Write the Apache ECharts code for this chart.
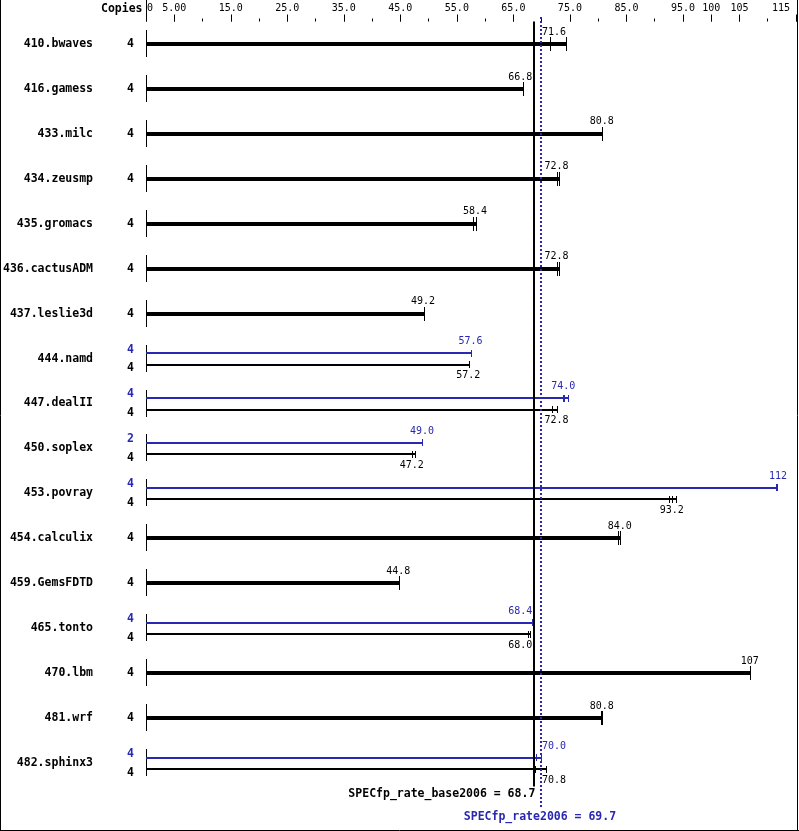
<!DOCTYPE html>
<html>
<head>
    <meta charset="utf-8"/>
    <title>SPECfp_rate2006</title>
    <script src="https://cdn.jsdelivr.net/npm/echarts@6/dist/echarts.min.js"></script>
    <style>
        html, body { margin: 0; padding: 0; background: #fff; }
        #main { width: 799px; height: 831px; }
    </style>
</head>
<body>
<div id="main"></div>
<script>
    // benchmark rows, top to bottom
    let benchmarks = ['410.bwaves', '416.gamess', '433.milc', '434.zeusmp', '435.gromacs', '436.cactusADM',
        '437.leslie3d', '444.namd', '447.dealII', '450.soplex', '453.povray', '454.calculix',
        '459.GemsFDTD', '465.tonto', '470.lbm', '481.wrf', '482.sphinx3'];

    // base results (black)
    let baseCopies = [4, 4, 4, 4, 4, 4, 4, 4, 4, 4, 4, 4, 4, 4, 4, 4, 4];
    let baseScore = [71.6, 66.8, 80.8, 72.8, 58.4, 72.8, 49.2, 57.2, 72.8, 47.2, 93.2, 84.0, 44.8, 68.0, 107, 80.8, 70.8];
    let baseRuns = [[71.6, 74.4], [66.8], [80.8], [72.8, 73.1], [57.9, 58.4], [72.8, 73.1], [49.2], [57.2],
        [72.0, 72.8], [47.2, 47.6], [92.7, 93.2, 93.9], [83.6, 84.0], [44.8], [67.6, 68.0], [107], [80.5, 80.8], [68.9, 70.8]];

    // peak results (blue), null where peak is the same as base
    let peakCopies = [null, null, null, null, null, null, null, 4, 4, 2, 4, null, null, 4, null, null, 4];
    let peakScore = [null, null, null, null, null, null, null, 57.6, 74.0, 49.0, 112, null, null, 68.4, null, null, 70.0];
    let peakRuns = [null, null, null, null, null, null, null, [57.6], [73.8, 74.0, 74.7], [49.0], [111.5, 111.8],
        null, null, [68.4], null, null, [69.1, 70.0]];

    let baseMean = 68.7;
    let peakMean = 69.7;

    // top axis
    let xMinorTicks = 5;
    let xMajorValues = [5, 15, 25, 35, 45, 55, 65, 75, 85, 95, 100, 105, 115];
    let xLabelValues = [0, 5, 15, 25, 35, 45, 55, 65, 75, 85, 95, 100, 105, 115];
    let xLabelTexts = ['0', '5.00', '15.0', '25.0', '35.0', '45.0', '55.0', '65.0', '75.0', '85.0', '95.0', '100', '105', '115'];

    const BLUE = '#2828b0';
    const MONO = '"DejaVu Sans Mono", monospace';
    const BOLD = 'bold 11.5px ' + MONO;
    const SMALL = '10px ' + MONO;

    function px(v) { return Math.round(v - 0.5) + 0.5; }
    function fmt(v) { return v >= 100 ? v.toFixed(0) : v.toFixed(1); }

    function textEl(str, x, y, font, color, align) {
        return {
            type: 'text',
            style: {
                text: str, x: x, y: y, font: font, fill: color,
                align: align, textAlign: align, verticalAlign: 'middle', textVerticalAlign: 'middle'
            }
        };
    }

    // one bar with its run ticks and its value label
    function drawBar(api, kids, runs, score, yb, thick, capH, labelDy, color) {
        let x0 = api.coord([0, 0])[0];
        let xe = api.coord([Math.max.apply(null, runs), 0])[0];
        kids.push({
            type: 'rect',
            shape: {x: x0, y: Math.round(yb - thick / 2), width: xe - x0, height: thick},
            style: {fill: color}
        });
        runs.forEach(function (r) {
            let xr = px(api.coord([r, 0])[0]);
            kids.push({
                type: 'line',
                shape: {x1: xr, y1: Math.round(yb - capH), x2: xr, y2: Math.round(yb + capH)},
                style: {stroke: color, lineWidth: 1}
            });
        });
        // keep the value label clear of the two mean lines
        let label = fmt(score);
        let w = label.length * 6.02;
        let cx = api.coord([score, 0])[0] - 1;
        let lo = api.coord([baseMean, 0])[0] - 2;
        let hi = api.coord([peakMean, 0])[0] + 2;
        if (cx - w / 2 < hi && cx + w / 2 > lo) {
            let toLeft = (cx + w / 2) - lo;
            let toRight = hi - (cx - w / 2);
            cx = toLeft < toRight ? lo - w / 2 : hi + w / 2;
        }
        kids.push(textEl(label, cx, yb + labelDy, SMALL, color, 'center'));
    }

    function renderRow(params, api) {
        let i = params.dataIndex;
        let cs = params.coordSys;
        let c = api.coord([0, i]);
        let yc = c[1];
        let copiesX = cs.x - 15.5;
        let kids = [];
        kids.push({
            type: 'line',
            shape: {x1: px(c[0]), y1: Math.round(yc - 14), x2: px(c[0]), y2: Math.round(yc + 13)},
            style: {stroke: '#000', lineWidth: 1}
        });
        if (peakScore[i] == null) {
            drawBar(api, kids, baseRuns[i], baseScore[i], yc, 4, 7, -12, '#000');
            kids.push(textEl(String(baseCopies[i]), copiesX, yc, BOLD, '#000', 'center'));
        } else {
            drawBar(api, kids, peakRuns[i], peakScore[i], yc - 5.5, 2, 3.5, -11.5, BLUE);
            drawBar(api, kids, baseRuns[i], baseScore[i], yc + 6, 2, 3.5, 11, '#000');
            kids.push(textEl(String(peakCopies[i]), copiesX, yc - 9, BOLD, BLUE, 'center'));
            kids.push(textEl(String(baseCopies[i]), copiesX, yc + 9.5, BOLD, '#000', 'center'));
        }
        return {type: 'group', children: kids};
    }

    function renderMeans(params, api) {
        let cs = params.coordSys;
        let top = cs.y, bottom = cs.y + cs.height;
        let xb = api.coord([baseMean, 0])[0];
        let xp = api.coord([peakMean, 0])[0];
        return {
            type: 'group',
            children: [
                {
                    type: 'line',
                    shape: {x1: Math.round(xb), y1: top, x2: Math.round(xb), y2: bottom + 1},
                    style: {stroke: '#000', lineWidth: 2}
                },
                {
                    type: 'line',
                    shape: {x1: Math.round(xp) + 1, y1: top - 4.5, x2: Math.round(xp) + 1, y2: bottom + 23},
                    style: {stroke: BLUE, lineWidth: 2, lineDash: [2, 2]}
                },
                textEl('SPECfp_rate_base2006 = ' + baseMean.toFixed(1), xb + 1, bottom + 9, BOLD, '#000', 'right'),
                textEl('SPECfp_rate2006 = ' + peakMean.toFixed(1), xp, bottom + 32, BOLD, BLUE, 'center')
            ]
        };
    }

    let myChart = echarts.init(document.getElementById('main'));
    let option = {
        animation: false,
        backgroundColor: '#fff',
        grid: {left: 146, right: 3, top: 21.5, bottom: 45.5, containLabel: false, outerBoundsMode: 'none'},
        xAxis: [
            {
                type: 'value', position: 'top', min: 0, max: 115, interval: xMinorTicks,
                axisLine: {show: false}, splitLine: {show: false},
                axisTick: {show: true, length: 3, lineStyle: {color: '#000', width: 1}},
                axisLabel: {show: false}
            },
            {
                type: 'value', position: 'top', min: 0, max: 115, interval: xMinorTicks,
                axisLine: {show: false}, splitLine: {show: false},
                axisTick: {show: true, length: 7, customValues: xMajorValues, lineStyle: {color: '#000', width: 1}},
                axisLabel: {
                    show: true, customValues: xLabelValues, margin: 8,
                    showMinLabel: true, showMaxLabel: true,
                    color: '#000', fontSize: 10, fontFamily: MONO,
                    formatter: function (v) {
                        let k = xLabelValues.indexOf(v);
                        let t = k >= 0 ? xLabelTexts[k] : '';
                        if (v === 0) return '{l|' + t + '}';
                        if (v === 115) return '{r|' + t + '}';
                        return t;
                    },
                    rich: {
                        l: {padding: [0, 0, 0, 8], fontSize: 10, fontFamily: MONO, color: '#000'},
                        r: {padding: [0, 30, 0, 0], fontSize: 10, fontFamily: MONO, color: '#000'}
                    }
                }
            },
            {
                type: 'value', position: 'top', min: 0, max: 115, interval: xMinorTicks,
                axisLine: {show: false}, splitLine: {show: false},
                axisTick: {show: true, length: 22, customValues: [0], lineStyle: {color: '#000', width: 1}},
                axisLabel: {show: false}
            }
        ],
        yAxis: {
            type: 'category', data: benchmarks, inverse: true,
            axisLine: {show: false}, axisTick: {show: false}, splitLine: {show: false},
            axisLabel: {
                interval: 0, margin: 53, color: '#000',
                fontSize: 11.5, fontWeight: 'bold', fontFamily: MONO
            }
        },
        graphic: [
            {type: 'text', left: 101, top: 3, style: {text: 'Copies', font: BOLD, fill: '#000'}},
            {type: 'line', shape: {x1: 0.5, y1: 0, x2: 0.5, y2: 831}, style: {stroke: '#000', lineWidth: 1}},
            {type: 'line', shape: {x1: 797.5, y1: 0, x2: 797.5, y2: 831}, style: {stroke: '#000', lineWidth: 1}},
            {type: 'line', shape: {x1: 0, y1: 830.5, x2: 799, y2: 830.5}, style: {stroke: '#000', lineWidth: 1}}
        ],
        series: [
            {
                type: 'custom', xAxisIndex: 0, yAxisIndex: 0, z: 2, clip: false,
                data: benchmarks.map(function (b, i) { return [0, i]; }),
                encode: {x: 0, y: 1},
                renderItem: renderRow
            },
            {
                type: 'custom', xAxisIndex: 0, yAxisIndex: 0, z: 3, clip: false,
                data: [[baseMean, 0]],
                encode: {x: 0, y: 1},
                renderItem: renderMeans
            }
        ]
    };
    myChart.setOption(option);
</script>
</body>
</html>
